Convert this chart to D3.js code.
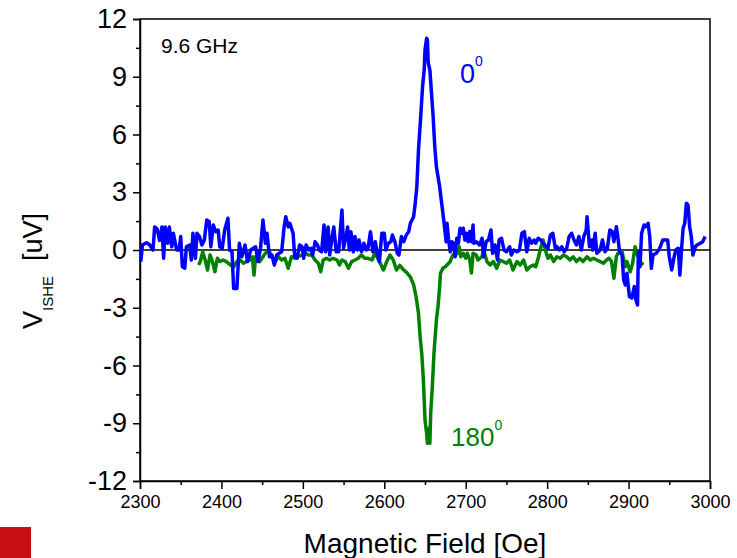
<!DOCTYPE html>
<html><head><meta charset="utf-8">
<script src="https://cdn.jsdelivr.net/npm/d3@7/dist/d3.min.js"></script>
<style>html,body{margin:0;padding:0;background:#fff;}svg{display:block;font-family:"Liberation Sans",Arial,sans-serif;}</style>
</head><body>
<svg id="chart" width="737" height="558"></svg>
<script>
// ---- data (Magnetic field in Oe, V_ISHE in uV) ----
const blueField = [2301,2303,2308,2312,2316,2318,2321,2324,2327,2329,2331,2334,2336,2339,2341,2345,2348,2350,2352,2355,2357,2361,2363,2365,2368,2370,2373,2376,2379,2382,2385,2387,2390,2393,2396,2398,2401,2404,2408,2410,2413,2415,2419,2422,2425,2429,2432,2436,2439,2442,2445,2448,2451,2454,2456,2459,2462,2465,2468,2471,2474,2477,2479,2482,2484,2488,2490,2493,2496,2499,2501,2504,2507,2510,2512,2515,2518,2520,2523,2526,2528,2531,2533,2536,2538,2541,2544,2548,2550,2553,2555,2557,2559,2562,2564,2567,2569,2572,2575,2578,2580,2583,2586,2589,2591,2594,2597,2600,2602,2605,2608,2610,2613,2616,2618,2621,2624,2627,2630,2632,2636,2638,2640,2642,2645,2647,2649,2650,2652,2653,2654,2656,2658,2660,2662,2664,2668,2671,2673,2676,2677,2679,2681,2683,2685,2687,2689,2691,2693,2695,2697,2699,2701,2703,2705,2707,2709,2710,2713,2717,2720,2722,2725,2728,2731,2733,2736,2739,2741,2744,2747,2750,2754,2756,2759,2763,2766,2769,2772,2775,2778,2781,2784,2786,2789,2792,2795,2799,2801,2804,2807,2810,2812,2815,2818,2821,2824,2827,2830,2833,2836,2839,2842,2845,2848,2849,2852,2855,2856,2859,2861,2865,2868,2871,2874,2877,2880,2882,2885,2887,2889,2892,2894,2896,2898,2901,2904,2907,2909,2911,2912,2914,2916,2919,2921,2924,2926,2928,2930,2934,2937,2939,2942,2945,2948,2950,2953,2956,2958,2961,2963,2965,2967,2969,2971,2973,2975,2977,2979,2982,2984,2988,2991,2994];
const blueV = [-0.6,0.26,0.38,0.26,0,1.2,1.1,0.5,1.2,-0.43,1.2,0.35,1.2,0.17,0.87,0,0,0.7,-0.87,-0.94,0.17,0.26,-0.52,0.87,-0.43,0.87,0.7,0.26,0.52,1.56,1.47,0.17,1.3,0.95,1.04,0.17,0.09,1.04,1.65,0,-0.09,-2.0,-2.0,0.35,-0.35,0.26,-0.6,0,0.09,0.17,-0.6,0.09,1.56,0.35,0.87,-0.35,-0.26,-0.78,-0.26,-0.17,-0.09,1.2,1.73,1.2,1.39,0.87,-0.35,-0.43,0.26,0.17,-0.43,0.26,0,0.09,-0.26,0.43,0.26,0,-0.09,1.3,-0.09,1.2,-0.26,0.7,1.2,-0.09,-0.09,2.08,0.09,0.7,1.2,0,0.95,-0.09,0.7,0,0.52,-0.09,0.35,0,0.09,0.95,-0.09,0.43,-0.09,-0.6,0.87,0.87,0,0.35,0.43,0.78,0.43,-0.17,-0.26,0.7,0.43,0.78,0.95,1.39,1.73,2.43,3.3,5.19,7.1,8.48,9.35,10.39,11.0,10.9,9.7,9.35,8.14,6.93,5.37,4.33,3.29,2.25,1.56,0.43,1.39,0.52,-0.09,0.43,0.35,-0.35,0.61,0.35,1.13,0.87,1.13,0.52,0.87,0.43,0.96,0.43,1.3,0.35,0.43,0.26,0.61,-0.35,0.43,0.52,1.04,-0.17,0.26,-0.52,0.52,0.61,0,-0.09,0.17,-0.26,0,-0.09,0,0.87,0.95,-0.09,0.61,0.35,0.52,0.35,0.61,0.52,0.35,0.17,0.09,0.78,0.87,0.09,0.17,0,0.17,-0.09,0.09,0.7,0.87,0.52,0.26,0.7,0,0.7,1.04,1.73,0.17,0.52,0,0.87,-0.17,0,0.52,-0.09,0.09,1.04,0.95,0.43,1.21,0.61,-0.09,-0.26,-1.56,-1.82,-1.21,-2.42,-2.5,-1.9,-2.6,-2.86,-0.09,-0.87,0.87,1.3,1.21,1.39,0.7,-0.95,-0.26,-0.17,0,0.17,0.52,0.52,0.52,-0.35,-1.04,-0.35,0,0.09,-1.3,0,1.13,1.39,2.43,2.34,1.21,0.7,-0.26,0.17,0.26,0.35,0.43,0.7];

const greenField = [2372,2374,2377,2380,2383,2386,2389,2392,2395,2398,2402,2406,2411,2415,2419,2423,2427,2431,2435,2438,2440,2442,2447,2451,2454,2458,2462,2466,2470,2474,2478,2482,2486,2490,2494,2499,2503,2507,2511,2515,2519,2522,2525,2529,2533,2537,2542,2545,2548,2552,2556,2560,2564,2568,2572,2576,2580,2585,2589,2591,2595,2599,2603,2607,2611,2615,2619,2623,2628,2632,2636,2639,2642,2644,2646,2648,2649,2650,2652,2653,2654,2656,2657,2659,2661,2664,2666,2668,2669,2672,2675,2677,2681,2684,2687,2690,2692,2694,2697,2700,2702,2705,2707,2709,2713,2715,2720,2722,2726,2730,2734,2738,2742,2746,2750,2754,2758,2763,2767,2771,2775,2779,2783,2786,2789,2792,2795,2799,2801,2804,2808,2812,2816,2820,2824,2828,2832,2836,2840,2844,2849,2853,2857,2861,2865,2869,2873,2876,2879,2882,2885,2887,2892,2896,2898,2902,2905,2908,2911,2914,2918];
const greenV = [-0.78,-0.6,-0.1,-0.52,-1.04,-0.26,-0.6,-1.13,-0.43,-0.6,-0.52,-0.6,-0.78,-0.87,-0.6,-0.52,-0.69,-0.6,-0.52,-0.35,-1.3,-0.35,-0.6,-0.35,-0.17,0,-0.35,-0.6,-0.35,-0.52,-0.43,-0.95,-0.35,-0.43,-0.35,-0.26,-0.17,-0.26,-0.26,-0.52,-0.69,-1.13,-0.52,-0.43,-0.52,-0.43,-0.52,-0.78,-0.52,-0.6,-0.95,-0.6,-0.52,-0.43,-0.26,-0.43,-0.43,-0.52,-0.09,-0.35,-0.69,-1.04,-0.6,-0.26,-0.52,-1.04,-0.8,-1.0,-1.2,-1.4,-1.8,-2.42,-3.29,-4.5,-5.37,-6.75,-7.79,-8.83,-9.52,-10.04,-9.26,-10.04,-8.48,-7.1,-5.37,-3.64,-2.94,-1.9,-1.21,-0.95,-0.87,-0.78,-0.6,-0.26,-0.26,-0.17,0.17,-0.35,-0.17,-0.43,-0.17,-0.52,-1.2,-0.17,-0.26,-0.52,-0.35,0,-0.6,-0.78,-0.6,-0.95,-0.52,-0.6,-0.69,-0.52,-1.04,-0.6,-0.78,-0.52,-1.04,-0.87,-0.78,-0.87,-0.43,0.09,0.52,-0.17,-0.43,-0.26,-0.6,-0.35,-0.43,-0.26,-0.35,-0.52,-0.35,-0.6,-0.43,-0.6,-0.35,-0.52,-0.43,-0.52,-0.6,-0.69,-0.52,-0.43,-0.6,-1.47,-0.35,-0.17,-0.09,-0.87,-0.6,-1.13,-0.69,0.17,-0.26,-0.6,-0.78];

const xTicks = [2300,2400,2500,2600,2700,2800,2900,3000];
const yTicks = [-12,-9,-6,-3,0,3,6,9,12];

// ---- layout ----
const svg = d3.select("#chart");
const L = 140, R = 710, T = 19, B = 481;
const x = d3.scaleLinear().domain([2300,3000]).range([L,R]);
const y = d3.scaleLinear().domain([-12,12]).range([B,T]);

// red square
svg.append("rect").attr("x",0).attr("y",527).attr("width",31).attr("height",31).attr("fill","#c80f14");

// frame
svg.append("rect").attr("x",L).attr("y",T).attr("width",R-L).attr("height",B-T)
  .attr("fill","none").attr("stroke","#000").attr("stroke-width",1.5);

// zero line
svg.append("line").attr("x1",L).attr("x2",R).attr("y1",y(0)).attr("y2",y(0))
  .attr("stroke","#000").attr("stroke-width",1.5);

// axes
const xAxis = d3.axisBottom(x).tickValues(xTicks).tickSize(8).tickPadding(6).tickFormat(d => String(d));
const gx = svg.append("g").attr("transform",`translate(0,${B})`).call(xAxis);
gx.select(".domain").attr("stroke-width",1.5);
gx.selectAll(".tick line").attr("stroke-width",1.5);
gx.selectAll("text").attr("font-size",18).attr("fill","#000");
const xMinor = d3.axisBottom(x).tickValues(d3.range(2350,3000,100)).tickSize(4).tickFormat("");
const gxm = svg.append("g").attr("transform",`translate(0,${B})`).call(xMinor);
gxm.select(".domain").remove();
gxm.selectAll(".tick line").attr("stroke-width",1.5);

const yAxis = d3.axisLeft(y).tickValues(yTicks).tickSize(7).tickPadding(6).tickFormat(d => String(d));
const gy = svg.append("g").attr("transform",`translate(${L},0)`).call(yAxis);
gy.select(".domain").attr("stroke-width",1.5);
gy.selectAll(".tick line").attr("stroke-width",1.5);
gy.selectAll("text").attr("font-size",27).attr("fill","#000");
const yMinor = d3.axisLeft(y).tickValues(d3.range(-10.5,12,3)).tickSize(4).tickFormat("");
const gym = svg.append("g").attr("transform",`translate(${L},0)`).call(yMinor);
gym.select(".domain").remove();
gym.selectAll(".tick line").attr("stroke-width",1.5);

// lines
const line = d3.line().x(d=>x(d[0])).y(d=>y(d[1]));
svg.append("path").datum(greenField.map((f,i)=>[f,greenV[i]]))
  .attr("d",line).attr("fill","none").attr("stroke","#008000").attr("stroke-width",3.5).attr("stroke-linejoin","round");
svg.append("path").datum(blueField.map((f,i)=>[f,blueV[i]]))
  .attr("d",line).attr("fill","none").attr("stroke","#0000ff").attr("stroke-width",3.5).attr("stroke-linejoin","round");

// texts
svg.append("text").attr("x",161).attr("y",53).attr("font-size",21).text("9.6 GHz");
const t0 = svg.append("text").attr("x",460).attr("y",83).attr("font-size",27).attr("fill","#0000ff");
t0.append("tspan").text("0");
t0.append("tspan").attr("dy",-17).attr("font-size",14).text("0");
const t180 = svg.append("text").attr("x",451).attr("y",446).attr("font-size",26).attr("fill","#008000");
t180.append("tspan").text("180");
t180.append("tspan").attr("dy",-16).attr("font-size",14).text("0");

svg.append("text").attr("x",425).attr("y",553).attr("text-anchor","middle").attr("font-size",28).text("Magnetic Field [Oe]");

const yl = svg.append("text").attr("transform","translate(42,329) rotate(-90)").attr("text-anchor","start").attr("font-size",27);
yl.append("tspan").text("V");
yl.append("tspan").attr("dy",11).attr("font-size",15).text("ISHE");
yl.append("tspan").attr("dy",-11).text("\u00a0 [uV]");
</script>
</body></html>
